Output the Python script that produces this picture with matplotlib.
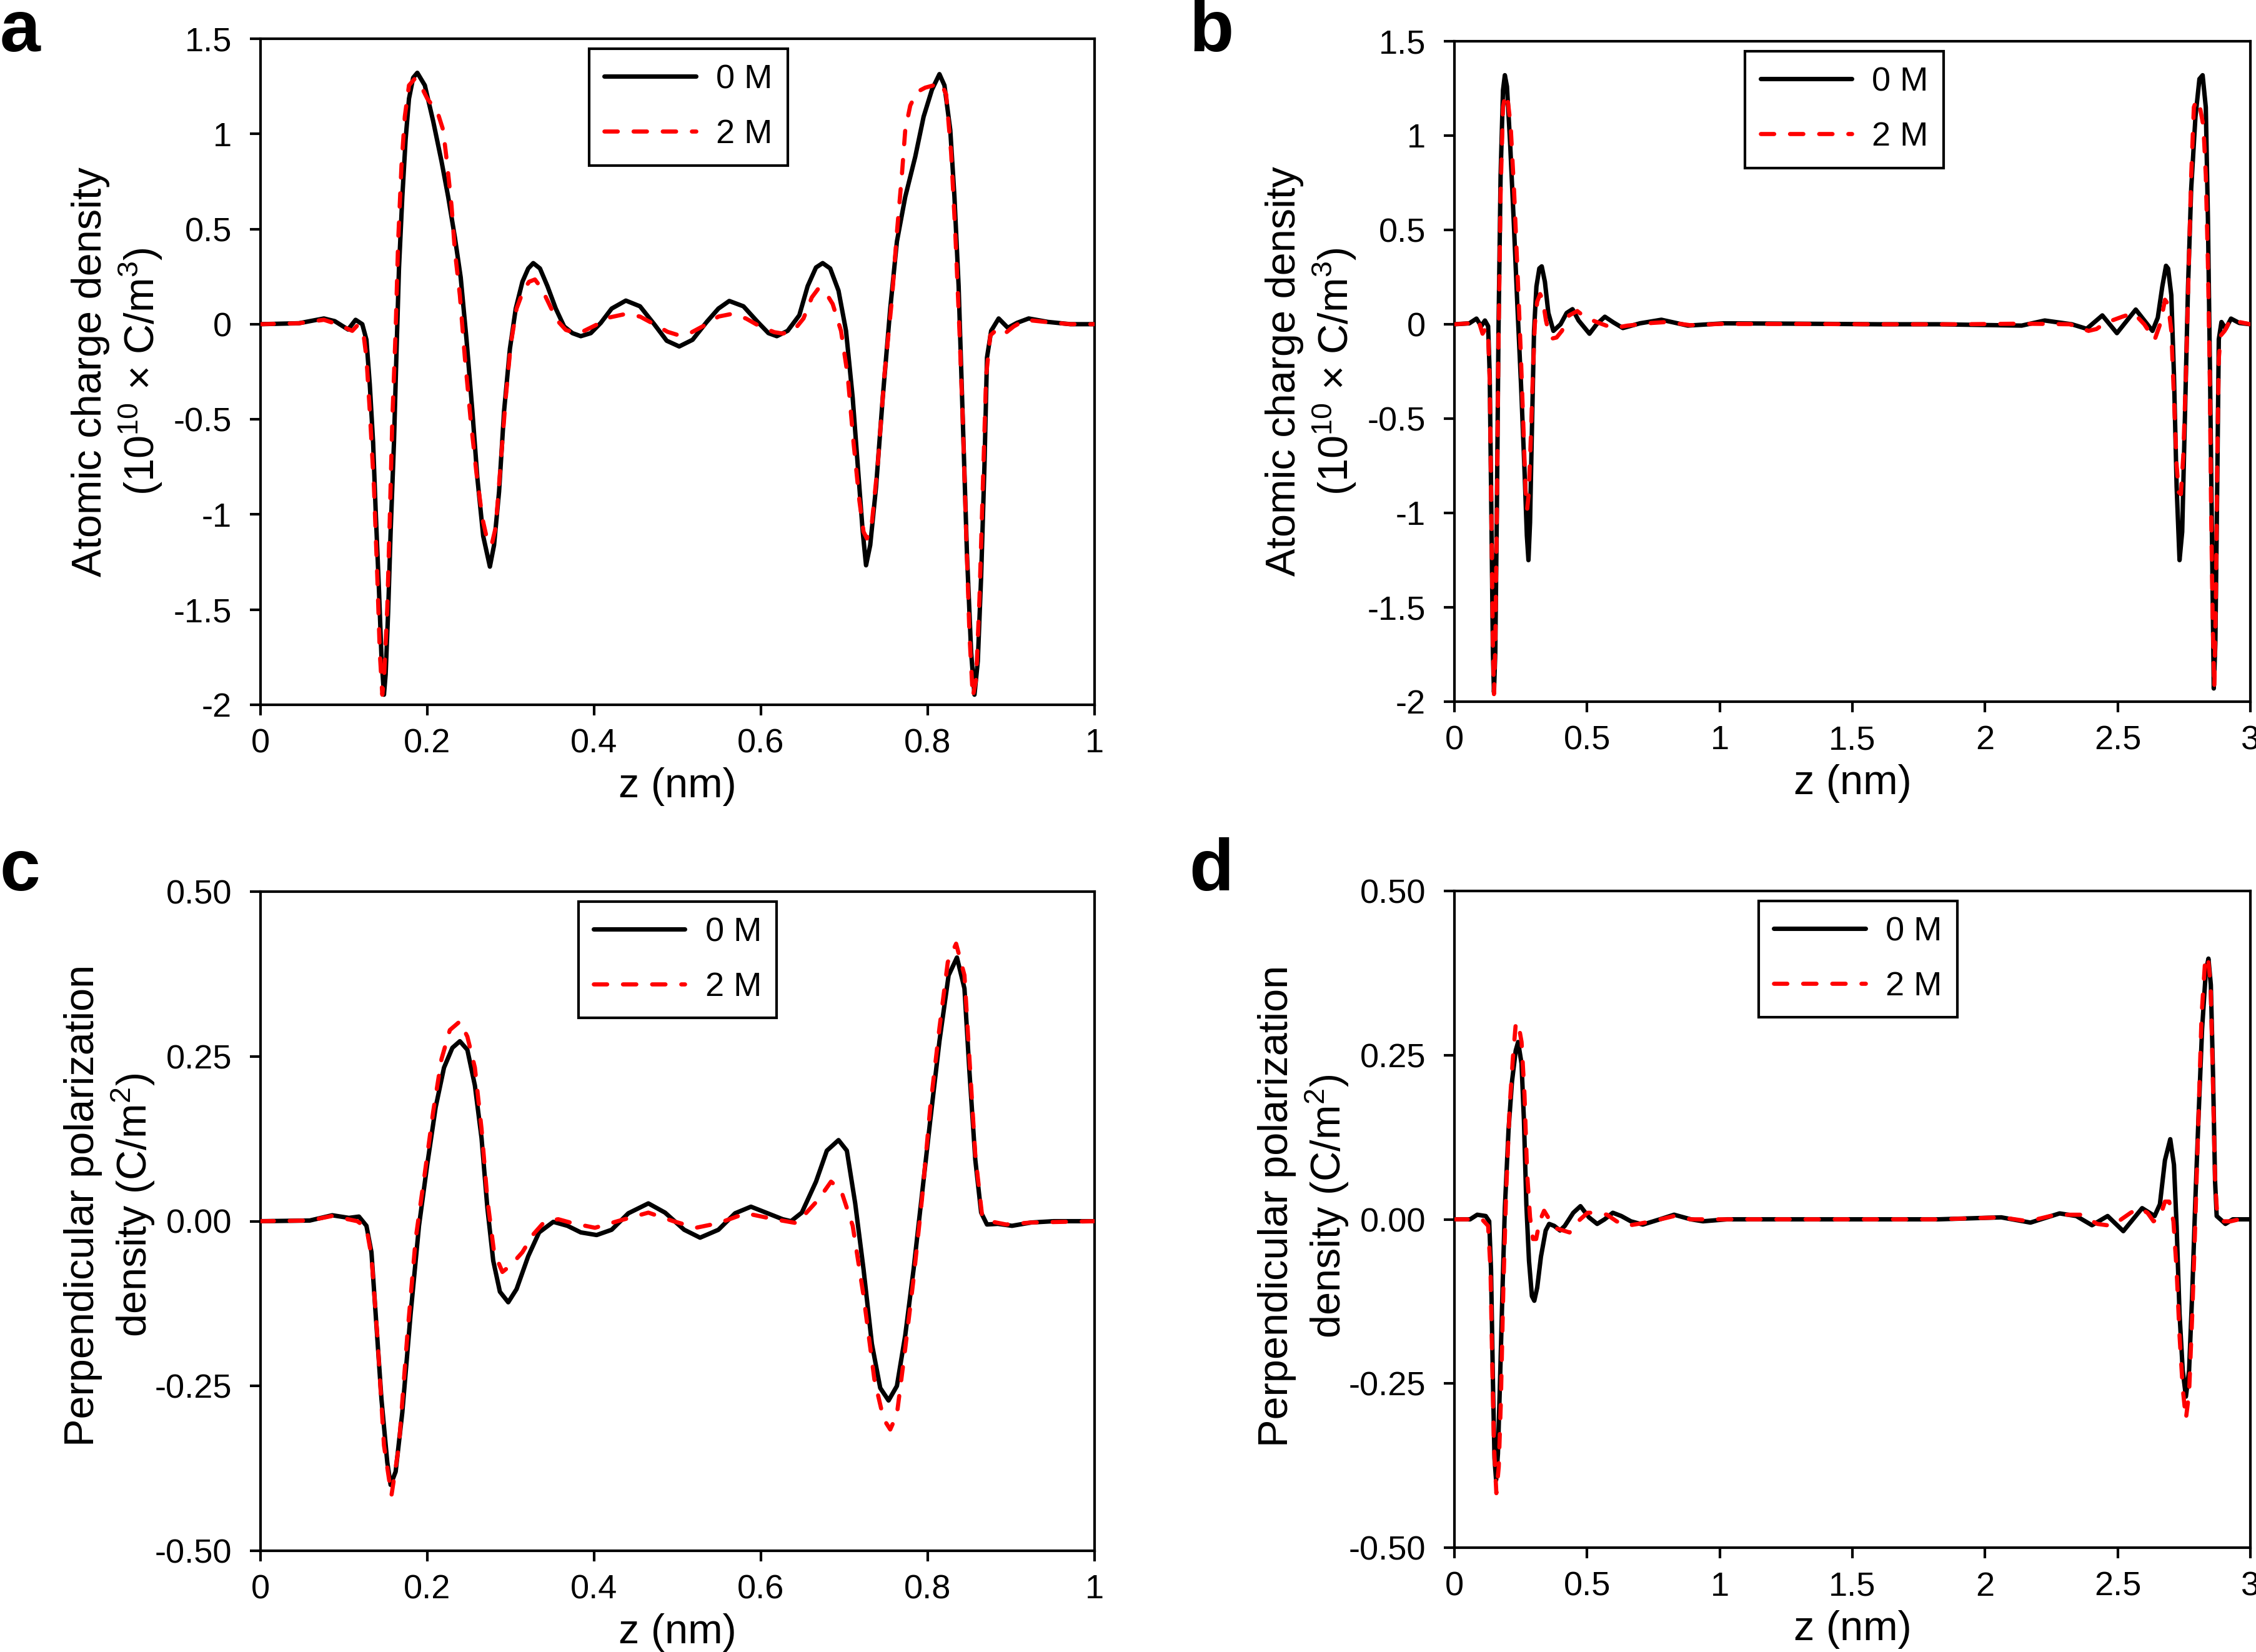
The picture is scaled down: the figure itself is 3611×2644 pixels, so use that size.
import matplotlib
matplotlib.use("Agg")
import matplotlib.pyplot as plt

plt.rcParams['font.family'] = ['Liberation Sans', 'DejaVu Sans']
plt.rcParams['mathtext.default'] = 'regular'
plt.rcParams['font.size'] = 13

# ---------------- panel a : charge density, 1 nm slab ----------------
a_z_0M = [0.0, 0.046, 0.076, 0.089, 0.105, 0.114, 0.122, 0.127, 0.131, 0.135, 0.138, 0.142,
          0.145, 0.148, 0.150, 0.153, 0.156, 0.160, 0.163, 0.166, 0.170, 0.174, 0.178, 0.183,
          0.188, 0.197, 0.207, 0.217, 0.225, 0.233, 0.240, 0.247, 0.254, 0.260, 0.267, 0.275,
          0.280, 0.286, 0.292, 0.299, 0.306, 0.314, 0.321, 0.327, 0.335, 0.344, 0.354, 0.364,
          0.374, 0.384, 0.396, 0.408, 0.421, 0.438, 0.455, 0.472, 0.487, 0.502, 0.518, 0.535,
          0.549, 0.562, 0.579, 0.596, 0.609, 0.619, 0.632, 0.646, 0.656, 0.666, 0.674, 0.683,
          0.693, 0.702, 0.710, 0.716, 0.722, 0.726, 0.731, 0.738, 0.746, 0.755, 0.763, 0.773,
          0.785, 0.795, 0.805, 0.814, 0.820, 0.827, 0.832, 0.837, 0.842, 0.847, 0.852, 0.856,
          0.860, 0.864, 0.868, 0.871, 0.876, 0.885, 0.896, 0.907, 0.921, 0.944, 0.971, 1.0]
a_v_0M = [0.0, 0.005, 0.03, 0.016, -0.028, 0.023, 0.0, -0.082, -0.317, -0.622, -0.974, -1.396,
          -1.748, -1.947, -1.841, -1.513, -1.091, -0.622, -0.152, 0.293, 0.669, 0.973, 1.185, 1.295,
          1.321, 1.255, 1.067, 0.856, 0.669, 0.457, 0.246, -0.082, -0.457, -0.809, -1.114, -1.274,
          -1.161, -0.88, -0.457, -0.129, 0.082, 0.223, 0.293, 0.321, 0.293, 0.2, 0.082, -0.012,
          -0.047, -0.063, -0.047, 0.007, 0.082, 0.124, 0.094, 0.0, -0.087, -0.117, -0.082, 0.012,
          0.082, 0.122, 0.094, 0.012, -0.047, -0.063, -0.035, 0.047, 0.2, 0.298, 0.321, 0.293,
          0.176, -0.035, -0.387, -0.739, -1.09, -1.267, -1.161, -0.856, -0.387, 0.082, 0.434, 0.669,
          0.88, 1.09, 1.232, 1.314, 1.255, 1.02, 0.669, 0.2, -0.504, -1.208, -1.724, -1.947,
          -1.771, -1.325, -0.739, -0.176, -0.035, 0.03, -0.019, 0.007, 0.03, 0.012, 0.0, 0.0]

a_z_2M = [0.0, 0.046, 0.076, 0.092, 0.110, 0.116, 0.123, 0.127, 0.131, 0.136, 0.140, 0.143,
          0.146, 0.148, 0.152, 0.155, 0.158, 0.162, 0.165, 0.169, 0.173, 0.178, 0.185, 0.192,
          0.200, 0.208, 0.213, 0.219, 0.224, 0.229, 0.233, 0.239, 0.245, 0.252, 0.259, 0.266,
          0.272, 0.277, 0.282, 0.287, 0.294, 0.300, 0.307, 0.315, 0.322, 0.329, 0.337, 0.346,
          0.355, 0.366, 0.378, 0.388, 0.401, 0.418, 0.438, 0.455, 0.472, 0.488, 0.502, 0.515,
          0.532, 0.549, 0.565, 0.582, 0.599, 0.616, 0.626, 0.639, 0.651, 0.661, 0.669, 0.677,
          0.686, 0.696, 0.704, 0.711, 0.718, 0.723, 0.727, 0.733, 0.740, 0.748, 0.757, 0.763,
          0.769, 0.773, 0.779, 0.787, 0.797, 0.807, 0.816, 0.822, 0.828, 0.833, 0.838, 0.842,
          0.846, 0.850, 0.854, 0.858, 0.862, 0.866, 0.870, 0.875, 0.884, 0.893, 0.903, 0.917,
          0.941, 0.971, 1.0]
a_v_2M = [0.0, 0.005, 0.023, 0.0, -0.035, -0.007, -0.035, -0.176, -0.457, -0.856, -1.325, -1.724,
          -1.947, -1.865, -1.49, -1.02, -0.504, -0.035, 0.434, 0.833, 1.091, 1.255, 1.29, 1.255,
          1.185, 1.138, 1.103, 1.02, 0.833, 0.622, 0.387, 0.152, -0.176, -0.504, -0.786, -1.02,
          -1.138, -1.161, -1.067, -0.786, -0.387, -0.106, 0.082, 0.176, 0.223, 0.235, 0.188, 0.106,
          0.023, -0.03, -0.047, -0.035, -0.007, 0.035, 0.054, 0.04, 0.0, -0.04, -0.059, -0.047,
          -0.007, 0.04, 0.054, 0.03, -0.012, -0.042, -0.049, -0.035, 0.03, 0.141, 0.188, 0.171,
          0.106, -0.035, -0.27, -0.622, -0.927, -1.091, -1.126, -1.044, -0.739, -0.27, 0.129, 0.481,
          0.786, 1.02, 1.149, 1.22, 1.243, 1.255, 1.267, 1.208, 0.903, 0.481, -0.035, -0.504,
          -1.091, -1.63, -1.959, -1.865, -1.443, -0.856, -0.27, -0.059, -0.023, -0.047, -0.012, 0.023,
          0.012, 0.0, 0.0]

# ---------------- panel b : charge density, 3 nm slab ----------------
b_z_0M = [0.0, 0.056, 0.083, 0.101, 0.115, 0.127, 0.133, 0.139, 0.145, 0.149, 0.154, 0.160,
          0.166, 0.174, 0.183, 0.190, 0.198, 0.210, 0.224, 0.237, 0.251, 0.264, 0.273, 0.279,
          0.285, 0.291, 0.300, 0.309, 0.320, 0.329, 0.341, 0.354, 0.373, 0.400, 0.423, 0.445,
          0.468, 0.509, 0.536, 0.567, 0.599, 0.635, 0.699, 0.780, 0.880, 1.015, 1.3, 1.6,
          1.823, 2.138, 2.225, 2.327, 2.383, 2.442, 2.497, 2.568, 2.631, 2.651, 2.668, 2.682,
          2.690, 2.702, 2.712, 2.722, 2.733, 2.743, 2.753, 2.765, 2.777, 2.793, 2.808, 2.820,
          2.832, 2.840, 2.848, 2.856, 2.862, 2.868, 2.875, 2.881, 2.891, 2.907, 2.927, 2.958, 3.0]
b_v_0M = [0.0, 0.005, 0.03, -0.01, 0.02, -0.01, -0.27, -0.98, -1.74, -1.95, -1.74, -0.98,
          -0.04, 0.79, 1.24, 1.32, 1.26, 0.957, 0.53, 0.106, -0.32, -0.77, -1.12, -1.25,
          -1.05, -0.63, -0.035, 0.2, 0.296, 0.307, 0.225, 0.06, -0.035, 0.0, 0.06, 0.08,
          0.02, -0.05, 0.0, 0.04, 0.01, -0.02, 0.005, 0.024, -0.007, 0.005, 0.003, 0.0,
          0.0, -0.007, 0.02, 0.0, -0.024, 0.047, -0.047, 0.078, -0.035, 0.035, 0.2, 0.31,
          0.295, 0.154, -0.27, -0.86, -1.25, -1.1, -0.51, 0.2, 0.72, 1.1, 1.3, 1.32,
          1.15, 0.56, -0.27, -1.22, -1.93, -1.69, -0.86, -0.08, 0.012, -0.024, 0.03, 0.007, 0.0]

b_z_2M = [0.0, 0.056, 0.083, 0.095, 0.106, 0.118, 0.127, 0.133, 0.139, 0.145, 0.149, 0.154,
          0.160, 0.166, 0.174, 0.183, 0.192, 0.200, 0.212, 0.225, 0.237, 0.250, 0.260, 0.268,
          0.274, 0.280, 0.288, 0.296, 0.303, 0.312, 0.323, 0.333, 0.345, 0.356, 0.370, 0.385,
          0.405, 0.432, 0.463, 0.495, 0.545, 0.572, 0.599, 0.653, 0.744, 0.800, 0.889, 1.0,
          1.3, 1.6, 1.9, 2.12, 2.22, 2.32, 2.39, 2.42, 2.453, 2.517, 2.56, 2.60,
          2.639, 2.662, 2.678, 2.690, 2.702, 2.712, 2.722, 2.730, 2.738, 2.747, 2.757, 2.768,
          2.777, 2.787, 2.797, 2.810, 2.823, 2.832, 2.840, 2.847, 2.852, 2.858, 2.864, 2.870,
          2.876, 2.881, 2.888, 2.903, 2.927, 2.958, 3.0]
b_v_2M = [0.0, 0.005, 0.025, 0.0, -0.05, -0.02, -0.05, -0.3, -0.98, -1.7, -1.96, -1.7,
          -0.98, -0.1, 0.7, 1.15, 1.22, 1.2, 1.05, 0.7, 0.3, -0.15, -0.55, -0.88,
          -0.98, -0.9, -0.6, -0.25, 0.0, 0.12, 0.16, 0.13, 0.02, -0.05, -0.075, -0.07,
          -0.035, 0.047, 0.07, 0.035, 0.007, -0.007, -0.02, -0.007, 0.007, 0.012, -0.005, 0.002,
          0.002, 0.0, 0.0, 0.003, 0.002, 0.0, -0.035, -0.025, 0.007, 0.04, 0.06, 0.0,
          -0.083, 0.01, 0.13, 0.106, -0.035, -0.39, -0.745, -0.89, -0.9, -0.7, -0.27, 0.32,
          0.79, 1.15, 1.19, 1.15, 1.05, 0.79, 0.32, -0.27, -0.98, -1.57, -1.93, -1.45,
          -0.63, -0.18, -0.06, -0.035, 0.03, 0.012, 0.0]

# ---------------- panel c : polarization density, 1 nm slab ----------------
c_z_0M = [0.0, 0.059, 0.086, 0.106, 0.118, 0.127, 0.133, 0.138, 0.145, 0.152, 0.156, 0.162,
          0.170, 0.180, 0.190, 0.200, 0.210, 0.220, 0.230, 0.239, 0.248, 0.257, 0.265, 0.272,
          0.279, 0.287, 0.297, 0.307, 0.321, 0.334, 0.351, 0.368, 0.384, 0.403, 0.421, 0.441,
          0.465, 0.485, 0.508, 0.527, 0.549, 0.569, 0.588, 0.606, 0.626, 0.636, 0.649, 0.666,
          0.679, 0.693, 0.703, 0.713, 0.723, 0.733, 0.743, 0.753, 0.763, 0.773, 0.783, 0.793,
          0.803, 0.814, 0.825, 0.835, 0.844, 0.850, 0.857, 0.864, 0.871, 0.884, 0.901, 0.924,
          0.951, 1.0]
c_v_0M = [0.0, 0.001, 0.009, 0.005, 0.007, -0.007, -0.047, -0.14, -0.27, -0.366, -0.40, -0.38,
          -0.29, -0.14, -0.007, 0.087, 0.173, 0.233, 0.263, 0.273, 0.26, 0.206, 0.126, 0.02,
          -0.06, -0.107, -0.123, -0.103, -0.053, -0.017, -0.001, -0.007, -0.017, -0.021, -0.013, 0.012,
          0.027, 0.013, -0.013, -0.025, -0.013, 0.012, 0.022, 0.013, 0.003, 0.0, 0.013, 0.06,
          0.107, 0.123, 0.107, 0.027, -0.073, -0.186, -0.253, -0.272, -0.25, -0.173, -0.073, 0.04,
          0.153, 0.273, 0.373, 0.40, 0.353, 0.226, 0.093, 0.013, -0.005, -0.004, -0.007, -0.002,
          0.0, 0.0]

c_z_2M = [0.0, 0.059, 0.086, 0.116, 0.127, 0.133, 0.140, 0.148, 0.157, 0.166, 0.176, 0.186,
          0.197, 0.207, 0.217, 0.227, 0.239, 0.248, 0.257, 0.265, 0.272, 0.280, 0.290, 0.300,
          0.314, 0.327, 0.341, 0.357, 0.374, 0.401, 0.428, 0.465, 0.495, 0.522, 0.549, 0.582,
          0.616, 0.643, 0.669, 0.684, 0.696, 0.710, 0.723, 0.736, 0.747, 0.755, 0.763, 0.773,
          0.783, 0.793, 0.803, 0.814, 0.824, 0.834, 0.844, 0.850, 0.857, 0.865, 0.874, 0.894,
          0.924, 1.0]
c_v_2M = [0.0, 0.001, 0.008, 0.0, -0.01, -0.053, -0.173, -0.34, -0.416, -0.34, -0.173, -0.027,
          0.073, 0.166, 0.246, 0.29, 0.303, 0.28, 0.233, 0.14, 0.033, -0.047, -0.077, -0.067,
          -0.047, -0.02, 0.0, 0.003, -0.003, -0.01, 0.0, 0.013, 0.0, -0.01, -0.003, 0.012,
          0.003, -0.003, 0.033, 0.06, 0.047, -0.007, -0.113, -0.24, -0.30, -0.316, -0.293, -0.193,
          -0.087, 0.033, 0.173, 0.293, 0.393, 0.421, 0.373, 0.246, 0.1, 0.01, 0.0, -0.005,
          -0.002, 0.0]

# ---------------- panel d : polarization density, 3 nm slab ----------------
d_z_0M = [0.0, 0.059, 0.086, 0.118, 0.131, 0.138, 0.145, 0.151, 0.157, 0.164, 0.172, 0.181,
          0.190, 0.204, 0.217, 0.231, 0.240, 0.253, 0.262, 0.271, 0.281, 0.292, 0.301, 0.312,
          0.326, 0.344, 0.357, 0.376, 0.398, 0.416, 0.448, 0.475, 0.507, 0.538, 0.566, 0.597,
          0.629, 0.665, 0.710, 0.774, 0.828, 0.891, 0.937, 1.027, 1.4, 1.825, 2.061, 2.171,
          2.281, 2.344, 2.403, 2.462, 2.521, 2.592, 2.639, 2.659, 2.678, 2.698, 2.712, 2.722,
          2.733, 2.745, 2.757, 2.769, 2.781, 2.792, 2.804, 2.818, 2.832, 2.842, 2.851, 2.859,
          2.867, 2.873, 2.887, 2.906, 2.934, 3.0]
d_v_0M = [0.0, 0.0, 0.007, 0.005, -0.003, -0.077, -0.244, -0.364, -0.397, -0.357, -0.244, -0.11,
          0.017, 0.137, 0.21, 0.257, 0.27, 0.237, 0.15, 0.023, -0.063, -0.117, -0.124, -0.104,
          -0.057, -0.017, -0.007, -0.01, -0.017, -0.01, 0.01, 0.02, 0.003, -0.007, 0.0, 0.01,
          0.005, -0.003, -0.008, 0.0, 0.007, 0.0, -0.003, 0.0, 0.0, 0.0, 0.003, -0.005,
          0.009, 0.005, -0.009, 0.005, -0.018, 0.017, 0.005, 0.023, 0.09, 0.122, 0.083, -0.01,
          -0.144, -0.23, -0.27, -0.23, -0.11, 0.023, 0.15, 0.29, 0.377, 0.397, 0.357, 0.224,
          0.057, 0.005, 0.0, -0.007, 0.0, 0.0]

d_z_2M = [0.0, 0.059, 0.104, 0.127, 0.136, 0.142, 0.149, 0.158, 0.167, 0.175, 0.184, 0.195,
          0.208, 0.220, 0.231, 0.240, 0.253, 0.264, 0.274, 0.285, 0.296, 0.308, 0.321, 0.338,
          0.353, 0.374, 0.394, 0.434, 0.466, 0.502, 0.538, 0.575, 0.611, 0.647, 0.692, 0.756,
          0.828, 0.891, 1.027, 1.4, 1.825, 2.061, 2.164, 2.266, 2.360, 2.423, 2.478, 2.549,
          2.580, 2.612, 2.635, 2.659, 2.678, 2.694, 2.710, 2.722, 2.733, 2.745, 2.757, 2.769,
          2.781, 2.792, 2.804, 2.816, 2.830, 2.840, 2.850, 2.858, 2.867, 2.875, 2.895, 2.926,
          2.958, 3.0]
d_v_2M = [0.0, 0.0, 0.0, -0.01, -0.077, -0.21, -0.344, -0.417, -0.377, -0.277, -0.11, 0.043,
          0.17, 0.244, 0.297, 0.30, 0.27, 0.19, 0.07, 0.003, -0.03, -0.03, -0.003, 0.013,
          0.003, -0.013, -0.015, -0.02, -0.003, 0.01, 0.01, 0.007, -0.003, -0.01, -0.007, -0.002,
          0.005, 0.0, 0.0, 0.0, 0.0, 0.003, -0.003, 0.007, 0.007, -0.007, -0.01, 0.01,
          0.017, 0.01, -0.003, 0.003, 0.027, 0.027, -0.003, -0.077, -0.177, -0.257, -0.304, -0.264,
          -0.144, -0.01, 0.15, 0.31, 0.397, 0.40, 0.357, 0.224, 0.057, 0.007, -0.003, -0.003,
          0.0, 0.0]

# ---------------- axis ticks / labels ----------------
charge_yticks = [-2, -1.5, -1, -0.5, 0, 0.5, 1, 1.5]
charge_yticklabels = ['-2', '-1.5', '-1', '-0.5', '0', '0.5', '1', '1.5']
pol_yticks = [-0.5, -0.25, 0.0, 0.25, 0.5]
pol_yticklabels = ['-0.50', '-0.25', '0.00', '0.25', '0.50']
short_xticks = [0, 0.2, 0.4, 0.6, 0.8, 1.0]
short_xticklabels = ['0', '0.2', '0.4', '0.6', '0.8', '1']
long_xticks = [0, 0.5, 1, 1.5, 2, 2.5, 3]
long_xticklabels = ['0', '0.5', '1', '1.5', '2', '2.5', '3']

charge_label = 'Atomic charge density\n(10$^{10}$ × C/m$^{3}$)'
pol_label = 'Perpendicular polarization\ndensity (C/m$^{2}$)'
series_labels = ['0 M', '2 M']

W, H = 3612, 2644
DPI = 300


def px_axes(fig, left, right, top, bottom):
    """Add axes given pixel edges of the plotting box."""
    return fig.add_axes([left / W, 1 - bottom / H, (right - left) / W, (bottom - top) / H])


def style_panel(ax, xlim, ylim, xticks, xticklabels, yticks, yticklabels, ylabel, leg_x,
                ylabel_pos=None):
    ax.set_xlim(*xlim)
    ax.set_ylim(*ylim)
    ax.set_xticks(xticks)
    ax.set_xticklabels(xticklabels)
    ax.set_yticks(yticks)
    ax.set_yticklabels(yticklabels)
    for sp in ax.spines.values():
        sp.set_linewidth(1.0)
        sp.set_color('black')
    ax.tick_params(axis='both', direction='out', length=4, width=1.0, labelsize=13,
                   top=False, right=False)
    ax.tick_params(axis='y', pad=7)
    ax.tick_params(axis='x', pad=5)
    ax.set_xlabel('z (nm)', fontsize=16, labelpad=3)
    ax.set_ylabel(ylabel, fontsize=16, multialignment='center', labelpad=3.5)
    if ylabel_pos is not None:
        ax.yaxis.set_label_coords(*ylabel_pos)
    leg = ax.legend(loc='upper center', bbox_to_anchor=(leg_x, 0.985), fontsize=13,
                    frameon=True, fancybox=False, edgecolor='black', framealpha=1,
                    handlelength=2.7, handletextpad=0.6, labelspacing=0.7,
                    borderpad=0.45, borderaxespad=0.0)
    leg.get_frame().set_linewidth(1.0)


def draw(ax, z0, v0, z2, v2):
    ax.plot(z0, v0, color='black', lw=1.7, solid_joinstyle='round', solid_capstyle='round',
            label=series_labels[0], zorder=2)
    ax.plot(z2, v2, color='#FF0000', lw=1.6, linestyle=(0, (3.2, 3.8)),
            dash_capstyle='round', dash_joinstyle='round', label=series_labels[1], zorder=3)


fig = plt.figure(figsize=(W / DPI, H / DPI), dpi=DPI)
fig.patch.set_facecolor('white')

ax_a = px_axes(fig, 417, 1752, 62, 1128)
ax_b = px_axes(fig, 2328, 3602, 66, 1123)
ax_c = px_axes(fig, 417, 1752, 1427, 2482)
ax_d = px_axes(fig, 2328, 3602, 1426, 2477)

draw(ax_a, a_z_0M, a_v_0M, a_z_2M, a_v_2M)
draw(ax_b, b_z_0M, b_v_0M, b_z_2M, b_v_2M)
draw(ax_c, c_z_0M, c_v_0M, c_z_2M, c_v_2M)
draw(ax_d, d_z_0M, d_v_0M, d_z_2M, d_v_2M)

style_panel(ax_a, (0, 1), (-2, 1.5), short_xticks, short_xticklabels,
            charge_yticks, charge_yticklabels, charge_label, 0.513)
style_panel(ax_b, (0, 3), (-2, 1.5), long_xticks, long_xticklabels,
            charge_yticks, charge_yticklabels, charge_label, 0.49)
style_panel(ax_c, (0, 1), (-0.5, 0.5), short_xticks, short_xticklabels,
            pol_yticks, pol_yticklabels, pol_label, 0.50, ylabel_pos=(-0.124, 0.524))
style_panel(ax_d, (0, 3), (-0.5, 0.5), long_xticks, long_xticklabels,
            pol_yticks, pol_yticklabels, pol_label, 0.507, ylabel_pos=(-0.13, 0.52))

# panel letters
for letter, x, y in [('a', 0.0, 1 - 82 / H), ('b', 1903 / W, 1 - 82 / H),
                     ('c', 0.0, 1 - 1425 / H), ('d', 1903 / W, 1 - 1425 / H)]:
    fig.text(x, y, letter, fontsize=28, fontweight='bold', ha='left', va='baseline')

fig.savefig('out.png', dpi=DPI, facecolor='white')
plt.close(fig)
